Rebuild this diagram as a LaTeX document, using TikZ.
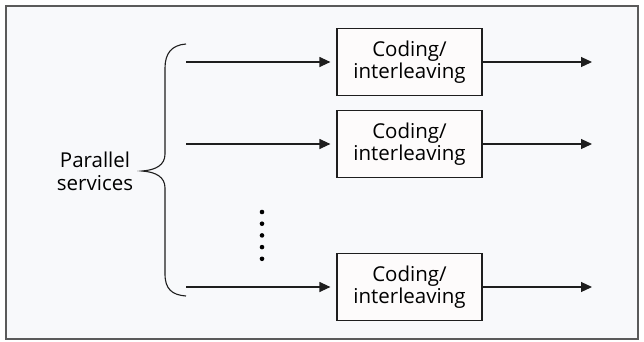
\documentclass[tikz,border=0pt]{standalone}
\usepackage{fontspec}
\setmainfont{Open Sans}
\definecolor{bgpanel}{RGB}{248,249,251}
\definecolor{boxfill}{RGB}{253,251,251}
\definecolor{framegray}{RGB}{90,90,90}
\definecolor{linegray}{RGB}{30,30,30}
\usetikzlibrary{arrows.meta,positioning,calc}

\begin{document}
\begin{tikzpicture}[x=1pt, y=-1pt,
  cbox/.style={rectangle, draw=linegray, line width=1.2pt, fill=boxfill,
               minimum width=145pt, minimum height=67pt, inner sep=0pt,
               font=\fontsize{20.5}{22.5}\selectfont, align=center, text=black},
  lbl/.style={font=\fontsize{20.5}{23}\selectfont, align=center, text=black},
  farr/.style={-{Triangle[length=11pt,width=10pt]}, line width=1.2pt, draw=linegray, shorten >=6pt}
]
% Frame
\useasboundingbox (0,0) rectangle (644,341);
\filldraw[fill=bgpanel, draw=framegray, line width=1.5pt] (6,6) rectangle (638,339);

% Coding blocks
\node[cbox] (cod1) at (409.5, 62) {Coding/\\interleaving};
\node[cbox] (cod2) at (409.5,144) {Coding/\\interleaving};
\node[cbox] (cod3) at (409.5,287) {Coding/\\interleaving};

% Inputs and outputs
\coordinate (in1) at (186, 62);
\coordinate (in2) at (186,144);
\coordinate (in3) at (186,287);
\coordinate (out1) at (592, 62);
\coordinate (out2) at (592,144);
\coordinate (out3) at (592,287);

% Label and brace
\node[lbl] (svc) at (95,171) {Parallel\\services};
\draw[linegray, line width=1.1pt] (186,44) .. controls (172,45) and (165,53) .. (165,68) -- (165,154)
  .. controls (165,165) and (156,170) .. (142,171) .. controls (156,172) and (165,177) .. (165,188)
  -- (165,274) .. controls (165,289) and (172,295) .. (186,296);

% Arrows
\foreach \i in {1,2,3} {
  \draw[farr] (in\i) -- (cod\i.west);
  \draw[farr, shorten >=0pt] (cod\i.east) -- (out\i);
}

% Dots
\foreach \i in {0,...,4}
  \fill[black] (262,212+11.7*\i) circle (2.3pt);
\end{tikzpicture}
\end{document}
